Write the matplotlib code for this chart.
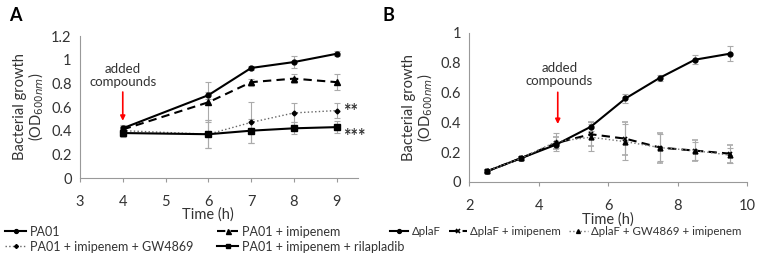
import numpy as np
import matplotlib
matplotlib.use('Agg')
from matplotlib import pyplot as plt

plt.rcParams['font.family'] = ['Lato', 'DejaVu Sans']

# panel A data
timeA = [4, 6, 7, 8, 9]
pa01 = [0.42, 0.70, 0.93, 0.98, 1.05]
pa01_err = [0.03, 0.03, 0.02, 0.05, 0.02]
imi = [0.41, 0.64, 0.81, 0.84, 0.81]
imi_err = [0.03, 0.17, 0.03, 0.04, 0.07]
gw = [0.40, 0.37, 0.47, 0.55, 0.57]
gw_err = [0.03, 0.12, 0.17, 0.08, 0.06]
rila = [0.38, 0.37, 0.40, 0.42, 0.43]
rila_err = [0.03, 0.12, 0.10, 0.05, 0.05]

# panel B data
timeB = [2.5, 3.5, 4.5, 5.5, 6.5, 7.5, 8.5, 9.5]
plaf = [0.07, 0.16, 0.25, 0.37, 0.56, 0.70, 0.82, 0.86]
plaf_err = [0.01, 0.01, 0.02, 0.03, 0.03, 0.02, 0.03, 0.05]
plaf_imi = [0.07, 0.16, 0.26, 0.32, 0.29, 0.23, 0.21, 0.19]
plaf_imi_err = [0.01, 0.01, 0.04, 0.08, 0.11, 0.10, 0.07, 0.06]
plaf_gw = [0.07, 0.16, 0.27, 0.30, 0.27, 0.23, 0.21, 0.18]
plaf_gw_err = [0.01, 0.01, 0.06, 0.09, 0.12, 0.09, 0.06, 0.05]

txt = '#333333'
axc = '#999999'
errc = '#aaaaaa'

fig = plt.figure(figsize=(7.58, 2.61), dpi=100)
axA = fig.add_axes([0.1055, 0.318, 0.367, 0.544])
axB = fig.add_axes([0.619, 0.303, 0.3665, 0.571])

def style(ax):
    for s in ['top', 'right']:
        ax.spines[s].set_visible(False)
    for s in ['left', 'bottom']:
        ax.spines[s].set_color(axc)
        ax.spines[s].set_linewidth(0.8)
    ax.tick_params(axis='x', colors=axc, labelcolor=txt, labelsize=10.5, length=3, pad=9, direction='out')
    ax.tick_params(axis='y', colors=axc, labelcolor=txt, labelsize=10.5, length=0, pad=6)
    ax.set_ylabel('Bacterial growth\n(OD$_{600nm}$)', fontsize=10.5, color=txt, linespacing=0.95, labelpad=4)

ekw = dict(ecolor=errc, elinewidth=0.8, capsize=2, capthick=0.8)

# panel A
h1 = axA.errorbar(timeA, pa01, yerr=pa01_err, color='black', lw=1.5, marker='o', ms=3.5, label='PA01', **ekw)
h2 = axA.errorbar(timeA, imi, yerr=imi_err, color='black', lw=1.5, ls=(0, (4, 2.5)), marker='^', ms=4.5, label='PA01 + imipenem', **ekw)
h3 = axA.errorbar(timeA, gw, yerr=gw_err, color='#666666', lw=1.0, ls=':', marker='D', ms=2.5, mfc='black', mec='black', label='PA01 + imipenem + GW4869', **ekw)
h4 = axA.errorbar(timeA, rila, yerr=rila_err, color='black', lw=1.5, marker='s', ms=4, label='PA01 + imipenem + rilapladib', **ekw)
axA.set_xlim(3, 9.5)
axA.set_ylim(0, 1.2)
axA.set_xticks([3, 4, 5, 6, 7, 8, 9])
axA.set_yticks([0, 0.2, 0.4, 0.6, 0.8, 1.0, 1.2])
axA.set_yticklabels(['0', '0.2', '0.4', '0.6', '0.8', '1', '1.2'])
style(axA)
axA.text(6, -0.31, 'Time (h)', ha='center', va='center', fontsize=10.5, color=txt)
axA.text(4, 0.87, 'added\ncompounds', ha='center', va='center', fontsize=9.5, color=txt, linespacing=1.1)
axA.annotate('', xy=(4, 0.46), xytext=(4, 0.75), arrowprops=dict(arrowstyle='-|>', color='red', lw=1.2, mutation_scale=7))
axA.text(9.15, 0.565, '**', ha='left', va='center', fontsize=13, fontweight='bold', color=txt)
axA.text(9.15, 0.35, '***', ha='left', va='center', fontsize=13, fontweight='bold', color=txt)
hA = [h1.lines[0], h3.lines[0], h2.lines[0], h4.lines[0]]
lA = ['PA01', 'PA01 + imipenem + GW4869', 'PA01 + imipenem', 'PA01 + imipenem + rilapladib']
axA.legend(hA, lA, loc='upper left', bbox_to_anchor=(0.0, 0.155), bbox_transform=fig.transFigure, ncol=2,
           frameon=False, fontsize=9, handlelength=1.7, handletextpad=0.3, columnspacing=1.9,
           labelspacing=0.25, borderaxespad=0, labelcolor=txt, markerscale=0.8)
fig.text(0.012, 0.92, 'A', fontsize=13, fontweight='bold', color='black')

# panel B
g1 = axB.errorbar(timeB, plaf, yerr=plaf_err, color='black', lw=1.5, marker='o', ms=3.5, label='ΔplaF', **ekw)
g2 = axB.errorbar(timeB, plaf_imi, yerr=plaf_imi_err, color='black', lw=1.5, ls=(0, (4, 2.5)), marker='x', ms=3.5, mew=1.2, label='ΔplaF + imipenem', **ekw)
g3 = axB.errorbar(timeB, plaf_gw, yerr=plaf_gw_err, color='#777777', lw=1.0, ls=':', marker='^', ms=3.5, mfc='black', mec='black', label='ΔplaF + GW4869 + imipenem', **ekw)
axB.set_xlim(2, 10)
axB.set_ylim(0, 1)
axB.set_xticks([2, 4, 6, 8, 10])
axB.set_yticks([0, 0.2, 0.4, 0.6, 0.8, 1.0])
axB.set_yticklabels(['0', '0.2', '0.4', '0.6', '0.8', '1'])
style(axB)
axB.text(6, -0.25, 'Time (h)', ha='center', va='center', fontsize=10.5, color=txt)
axB.text(4.6, 0.72, 'added\ncompounds', ha='center', va='center', fontsize=9.5, color=txt, linespacing=1.1)
axB.annotate('', xy=(4.55, 0.37), xytext=(4.55, 0.62), arrowprops=dict(arrowstyle='-|>', color='red', lw=1.2, mutation_scale=7))
axB.legend([g1.lines[0], g2.lines[0], g3.lines[0]], ['ΔplaF', 'ΔplaF + imipenem', 'ΔplaF + GW4869 + imipenem'],
           loc='upper left', bbox_to_anchor=(0.508, 0.15), bbox_transform=fig.transFigure, ncol=3,
           frameon=False, fontsize=8.3, handlelength=1.6, handletextpad=0.3, columnspacing=0.7,
           borderaxespad=0, labelcolor=txt, markerscale=0.8)
fig.text(0.505, 0.92, 'B', fontsize=13, fontweight='bold', color='black')

fig.savefig('out.png', dpi=100)
